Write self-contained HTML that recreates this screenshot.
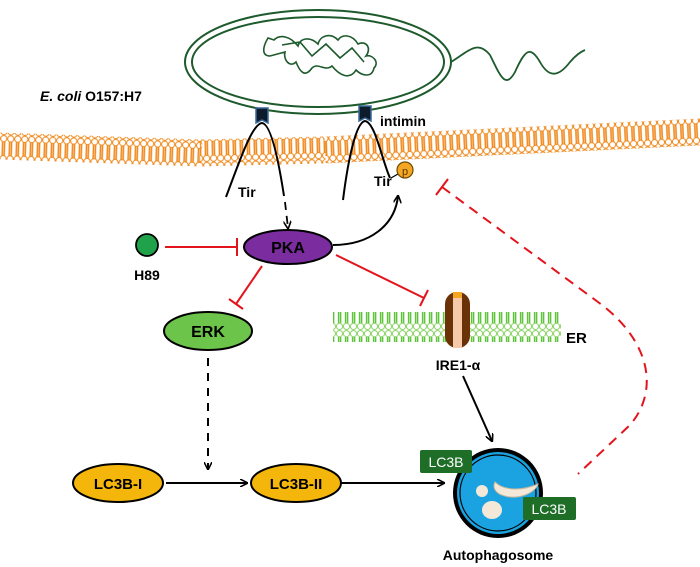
<!DOCTYPE html>
<html><head><meta charset="utf-8"><style>
html,body{margin:0;padding:0;background:#fff;}
svg{display:block;font-family:"Liberation Sans",Arial,sans-serif;font-weight:bold;}
</style></head><body>
<svg width="700" height="567" viewBox="0 0 700 567" xmlns="http://www.w3.org/2000/svg">
<defs>
<pattern id="mem" x="0" y="0" width="7" height="27" patternUnits="userSpaceOnUse">
<line x1="2.5" y1="6" x2="2.5" y2="21" stroke="#f08a1e" stroke-width="1.6"/>
<line x1="4.5" y1="6" x2="4.5" y2="21" stroke="#f08a1e" stroke-width="1.6"/>
<circle cx="3.5" cy="3.5" r="3.1" fill="#fff" stroke="#f08a1e" stroke-width="1"/>
<circle cx="3.5" cy="23.5" r="3.1" fill="#fff" stroke="#f08a1e" stroke-width="1"/>
</pattern>
<pattern id="er" x="0" y="0" width="7" height="30" patternUnits="userSpaceOnUse">
<line x1="2.6" y1="7" x2="2.6" y2="23" stroke="#5ec43a" stroke-width="1.5"/>
<line x1="4.6" y1="7" x2="4.6" y2="23" stroke="#5ec43a" stroke-width="1.5"/>
<circle cx="3.5" cy="3.6" r="3.1" fill="#fff" stroke="#8fd46a" stroke-width="1"/>
<circle cx="3.5" cy="26.4" r="3.1" fill="#fff" stroke="#8fd46a" stroke-width="1"/>
</pattern>
<marker id="ah" markerWidth="8" markerHeight="8" refX="7" refY="4" orient="auto" markerUnits="userSpaceOnUse">
<path d="M0,0 L8,4 L0,8" fill="none" stroke="#000" stroke-width="1.6"/>
</marker>
</defs>

<!-- bacterium -->
<ellipse cx="318" cy="62" rx="133" ry="52" fill="none" stroke="#1d5a2c" stroke-width="2"/>
<ellipse cx="318" cy="62" rx="126" ry="45" fill="none" stroke="#1d5a2c" stroke-width="2"/>
<path d="M451,62 C470,50 478,40 490,55 C500,75 505,90 515,72 C525,50 530,45 540,62 C550,80 560,75 570,62 C576,55 580,52 585,50" fill="none" stroke="#1d5a2c" stroke-width="1.8"/>
<path d="M268,38 C262,48 262,56 270,56 L285,52 C283,60 290,68 296,62 C300,72 305,78 312,68 C318,62 325,72 332,66 C340,76 350,80 356,70 C362,76 372,78 374,68 C380,62 372,54 366,56 C372,48 366,40 358,44 C352,34 342,34 338,40 C330,32 320,36 318,44 C310,36 300,38 298,46 C290,36 280,34 274,40 Z M282,45 L300,42 L312,56 L326,44 L340,58 L352,48 L364,62" fill="none" stroke="#1d5a2c" stroke-width="1.6"/>
<text x="40" y="101" font-size="14"><tspan font-style="italic">E. coli</tspan> O157:H7</text>

<!-- plasma membrane (curved, segmented) -->
<g transform="rotate(2 0 146)"><rect x="-10" y="132.5" width="212" height="27" fill="url(#mem)"/></g>
<g transform="rotate(-1.4 200 153)"><rect x="200" y="139.5" width="127" height="27" fill="url(#mem)"/></g>
<g transform="rotate(-2.75 325 150)"><rect x="325" y="136.5" width="390" height="27" fill="url(#mem)"/></g>

<!-- receptors -->
<path d="M256,108 L268,108 L268,123 L262,120 L256,123 Z" fill="#0d1b2a" stroke="#3a6a9a" stroke-width="1.5"/>
<path d="M359,106 L371,106 L371,121 L365,118 L359,121 Z" fill="#0d1b2a" stroke="#3a6a9a" stroke-width="1.5"/>
<text x="380" y="126" font-size="14">intimin</text>

<!-- Tir loops -->
<path d="M226,197 C240,160 252,124 262,123 C272,124 280,170 284,196" fill="none" stroke="#000" stroke-width="2"/>
<path d="M285,202 L288,228" fill="none" stroke="#000" stroke-width="1.8" stroke-dasharray="8,6" marker-end="url(#ah)"/>
<path d="M343,200 C348,160 356,122 365,121 C375,122 382,160 390,178" fill="none" stroke="#000" stroke-width="2"/>
<text x="238" y="197" font-size="14">Tir</text>
<text x="374" y="186" font-size="14">Tir</text>
<line x1="391" y1="178" x2="398" y2="174" stroke="#000" stroke-width="1.2"/>
<circle cx="405" cy="170" r="8" fill="#f5a623" stroke="#6a4a00" stroke-width="1.2"/>
<text x="405" y="175" font-size="11" font-weight="normal" text-anchor="middle" fill="#5a3a00">p</text>

<!-- PKA -> Tir-P -->
<path d="M333,245 C370,245 395,225 398,196" fill="none" stroke="#000" stroke-width="2" marker-end="url(#ah)"/>

<!-- H89 -->
<circle cx="147" cy="245" r="11" fill="#1fa24a" stroke="#000" stroke-width="1.8"/>
<text x="147" y="280" font-size="14" text-anchor="middle">H89</text>
<line x1="165" y1="247" x2="236" y2="247" stroke="#e3141b" stroke-width="2"/>
<line x1="237" y1="238" x2="237" y2="256" stroke="#e3141b" stroke-width="2"/>

<!-- PKA -->
<ellipse cx="288" cy="247" rx="44" ry="17" fill="#7b2c9f" stroke="#000" stroke-width="2"/>
<text x="288" y="253" font-size="16" text-anchor="middle">PKA</text>

<!-- PKA -| ERK -->
<line x1="262" y1="266" x2="236" y2="304" stroke="#e3141b" stroke-width="2"/>
<line x1="229" y1="299" x2="243" y2="309" stroke="#e3141b" stroke-width="2"/>
<!-- PKA -| IRE1 -->
<line x1="336" y1="255" x2="424" y2="298" stroke="#e3141b" stroke-width="2"/>
<line x1="420" y1="306" x2="428" y2="290" stroke="#e3141b" stroke-width="2"/>

<!-- ERK -->
<ellipse cx="208" cy="331" rx="44" ry="19" fill="#6cc54a" stroke="#000" stroke-width="2"/>
<text x="208" y="337" font-size="16" text-anchor="middle">ERK</text>
<line x1="208" y1="358" x2="208" y2="469" stroke="#000" stroke-width="2" stroke-dasharray="8,7" marker-end="url(#ah)"/>

<!-- ER -->
<rect x="333" y="312" width="228" height="30" fill="url(#er)"/>
<text x="566" y="343" font-size="15">ER</text>
<rect x="445" y="292" width="25" height="56" rx="12" fill="#6b3208"/>
<rect x="453" y="292" width="9" height="56" fill="#f6c9a8"/>
<rect x="453" y="292" width="9" height="6" fill="#f5a623"/>
<text x="458" y="370" font-size="14" text-anchor="middle">IRE1-α</text>
<line x1="463" y1="376" x2="492" y2="441" stroke="#000" stroke-width="2" marker-end="url(#ah)"/>

<!-- red dashed feedback -->
<path d="M442,187 L598,302 C650,340 660,390 630,425 L578,474" fill="none" stroke="#e3141b" stroke-width="2" stroke-dasharray="10,7"/>
<line x1="436" y1="195" x2="448" y2="179" stroke="#e3141b" stroke-width="2"/>

<!-- LC3B-I / II -->
<ellipse cx="118" cy="483" rx="45" ry="19" fill="#f5b60c" stroke="#000" stroke-width="2"/>
<text x="118" y="489" font-size="15" text-anchor="middle">LC3B-I</text>
<line x1="166" y1="483" x2="247" y2="483" stroke="#000" stroke-width="2" marker-end="url(#ah)"/>
<ellipse cx="296" cy="483" rx="45" ry="19" fill="#f5b60c" stroke="#000" stroke-width="2"/>
<text x="296" y="489" font-size="15" text-anchor="middle">LC3B-II</text>
<line x1="341" y1="483" x2="444" y2="483" stroke="#000" stroke-width="2" marker-end="url(#ah)"/>

<!-- autophagosome -->
<circle cx="498" cy="493" r="45" fill="#000"/>
<circle cx="498" cy="493" r="41" fill="#1aa3e0"/>
<circle cx="498" cy="493" r="38" fill="none" stroke="#000" stroke-width="1.2"/>
<path d="M495,482 C505,492 525,490 538,484 C536,492 520,500 505,496 C496,494 492,488 495,482 Z" fill="#f4e9d8" stroke="#c9b79c"/>
<circle cx="482" cy="491" r="6" fill="#f4e9d8"/>
<ellipse cx="492" cy="510" rx="10" ry="9" fill="#f4e9d8"/>
<rect x="420" y="450" width="52" height="23" rx="2" fill="#1e6e28"/>
<text x="446" y="467" font-size="14" font-weight="normal" fill="#fff" text-anchor="middle">LC3B</text>
<rect x="523" y="497" width="53" height="23" rx="2" fill="#1e6e28"/>
<text x="549" y="514" font-size="14" font-weight="normal" fill="#fff" text-anchor="middle">LC3B</text>
<text x="498" y="560" font-size="14" text-anchor="middle">Autophagosome</text>
</svg>
</body></html>
